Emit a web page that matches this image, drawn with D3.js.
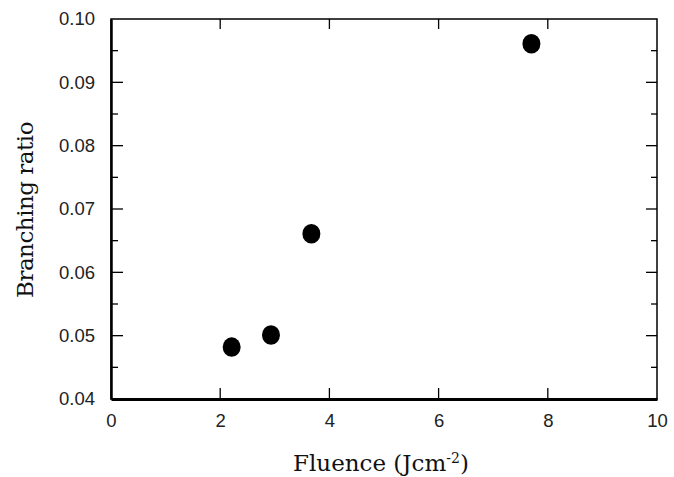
<!DOCTYPE html>
<html>
<head>
<meta charset="utf-8">
<script src="https://cdn.jsdelivr.net/npm/d3@7"></script>
<style>
  body { margin: 0; background: #fff; }
  .tick text { font-family: "Liberation Sans", Arial, sans-serif; font-size: 18.5px; fill: #222; }
  .title { font-family: "DejaVu Serif", "Liberation Serif", serif; font-size: 23px; fill: #111; }
</style>
</head>
<body>
<div id="chart"></div>
<script>
// data
const fluence = [2.21, 2.93, 3.67, 7.70];
const ratio = [0.0482, 0.0501, 0.0661, 0.0961];
const xTicks = [0, 2, 4, 6, 8, 10];
const yTicks = [0.04, 0.05, 0.06, 0.07, 0.08, 0.09, 0.10];
const yMinor = [0.045, 0.055, 0.065, 0.075, 0.085, 0.095];

const W = 674, H = 477;
const margin = { top: 19, right: 17, bottom: 78, left: 111 },
    width = W - margin.left - margin.right,
    height = H - margin.top - margin.bottom;

const svg = d3.select("#chart")
    .append("svg")
    .attr("width", W)
    .attr("height", H)
    .append("g")
    .attr("transform", "translate(" + margin.left + "," + margin.top + ")");

const x = d3.scaleLinear().domain([0, 10]).range([0, width]);
const y = d3.scaleLinear().domain([0.04, 0.10]).range([height, 0]);

// frame
svg.append("rect")
    .attr("width", width).attr("height", height)
    .attr("fill", "none").attr("stroke", "#000").attr("stroke-width", 1.5);

// bottom axis, labels outside, ticks inside
const xb = svg.append("g")
    .attr("transform", "translate(0," + height + ")")
    .call(d3.axisBottom(x).tickValues(xTicks).tickSize(0).tickPadding(15).tickFormat(d3.format("d")));
xb.select(".domain").attr("stroke-width", 3);
svg.append("g").selectAll("line")
    .data(xTicks.slice(1, -1))
    .join("line")
    .attr("x1", d => x(d)).attr("x2", d => x(d))
    .attr("y1", height).attr("y2", height - 11)
    .attr("stroke", "#000").attr("stroke-width", 1.3);
// top ticks
svg.append("g").selectAll("line")
    .data(xTicks.slice(1, -1))
    .join("line")
    .attr("x1", d => x(d)).attr("x2", d => x(d))
    .attr("y1", 0).attr("y2", 10)
    .attr("stroke", "#000").attr("stroke-width", 1.3);

// left axis
const yl = svg.append("g")
    .call(d3.axisLeft(y).tickValues(yTicks).tickSize(0).tickPadding(16).tickFormat(d3.format(".2f")));
yl.select(".domain").attr("stroke-width", 2.5);

function yTickLines(vals, len, side) {
    svg.append("g").selectAll("line")
        .data(vals)
        .join("line")
        .attr("x1", side === "left" ? 0 : width)
        .attr("x2", side === "left" ? len : width - len)
        .attr("y1", d => y(d)).attr("y2", d => y(d))
        .attr("stroke", "#000").attr("stroke-width", 1.3);
}
yTickLines(yTicks.slice(1, -1), 12, "left");
yTickLines(yMinor, 7, "left");
yTickLines(yTicks.slice(1, -1), 11, "right");
yTickLines(yMinor, 6, "right");

// points
svg.append("g").selectAll("ellipse")
    .data(fluence.map((f, i) => ({ f: f, r: ratio[i] })))
    .join("ellipse")
    .attr("cx", d => x(d.f))
    .attr("cy", d => y(d.r))
    .attr("rx", 9)
    .attr("ry", 9.8)
    .attr("fill", "#000");

// axis titles
const xt = svg.append("text")
    .attr("class", "title")
    .attr("x", 293 - margin.left)
    .attr("y", 471 - margin.top);
xt.append("tspan").text("Fluence (Jcm");
xt.append("tspan").attr("dy", -8).attr("font-size", 14).text("-2");
xt.append("tspan").attr("dy", 8).text(")");

svg.append("text")
    .attr("class", "title")
    .attr("letter-spacing", -0.5)
    .attr("transform", "translate(" + (33 - margin.left) + "," + (210 - margin.top) + ") rotate(-90)")
    .attr("text-anchor", "middle")
    .text("Branching ratio");
</script>
</body>
</html>
